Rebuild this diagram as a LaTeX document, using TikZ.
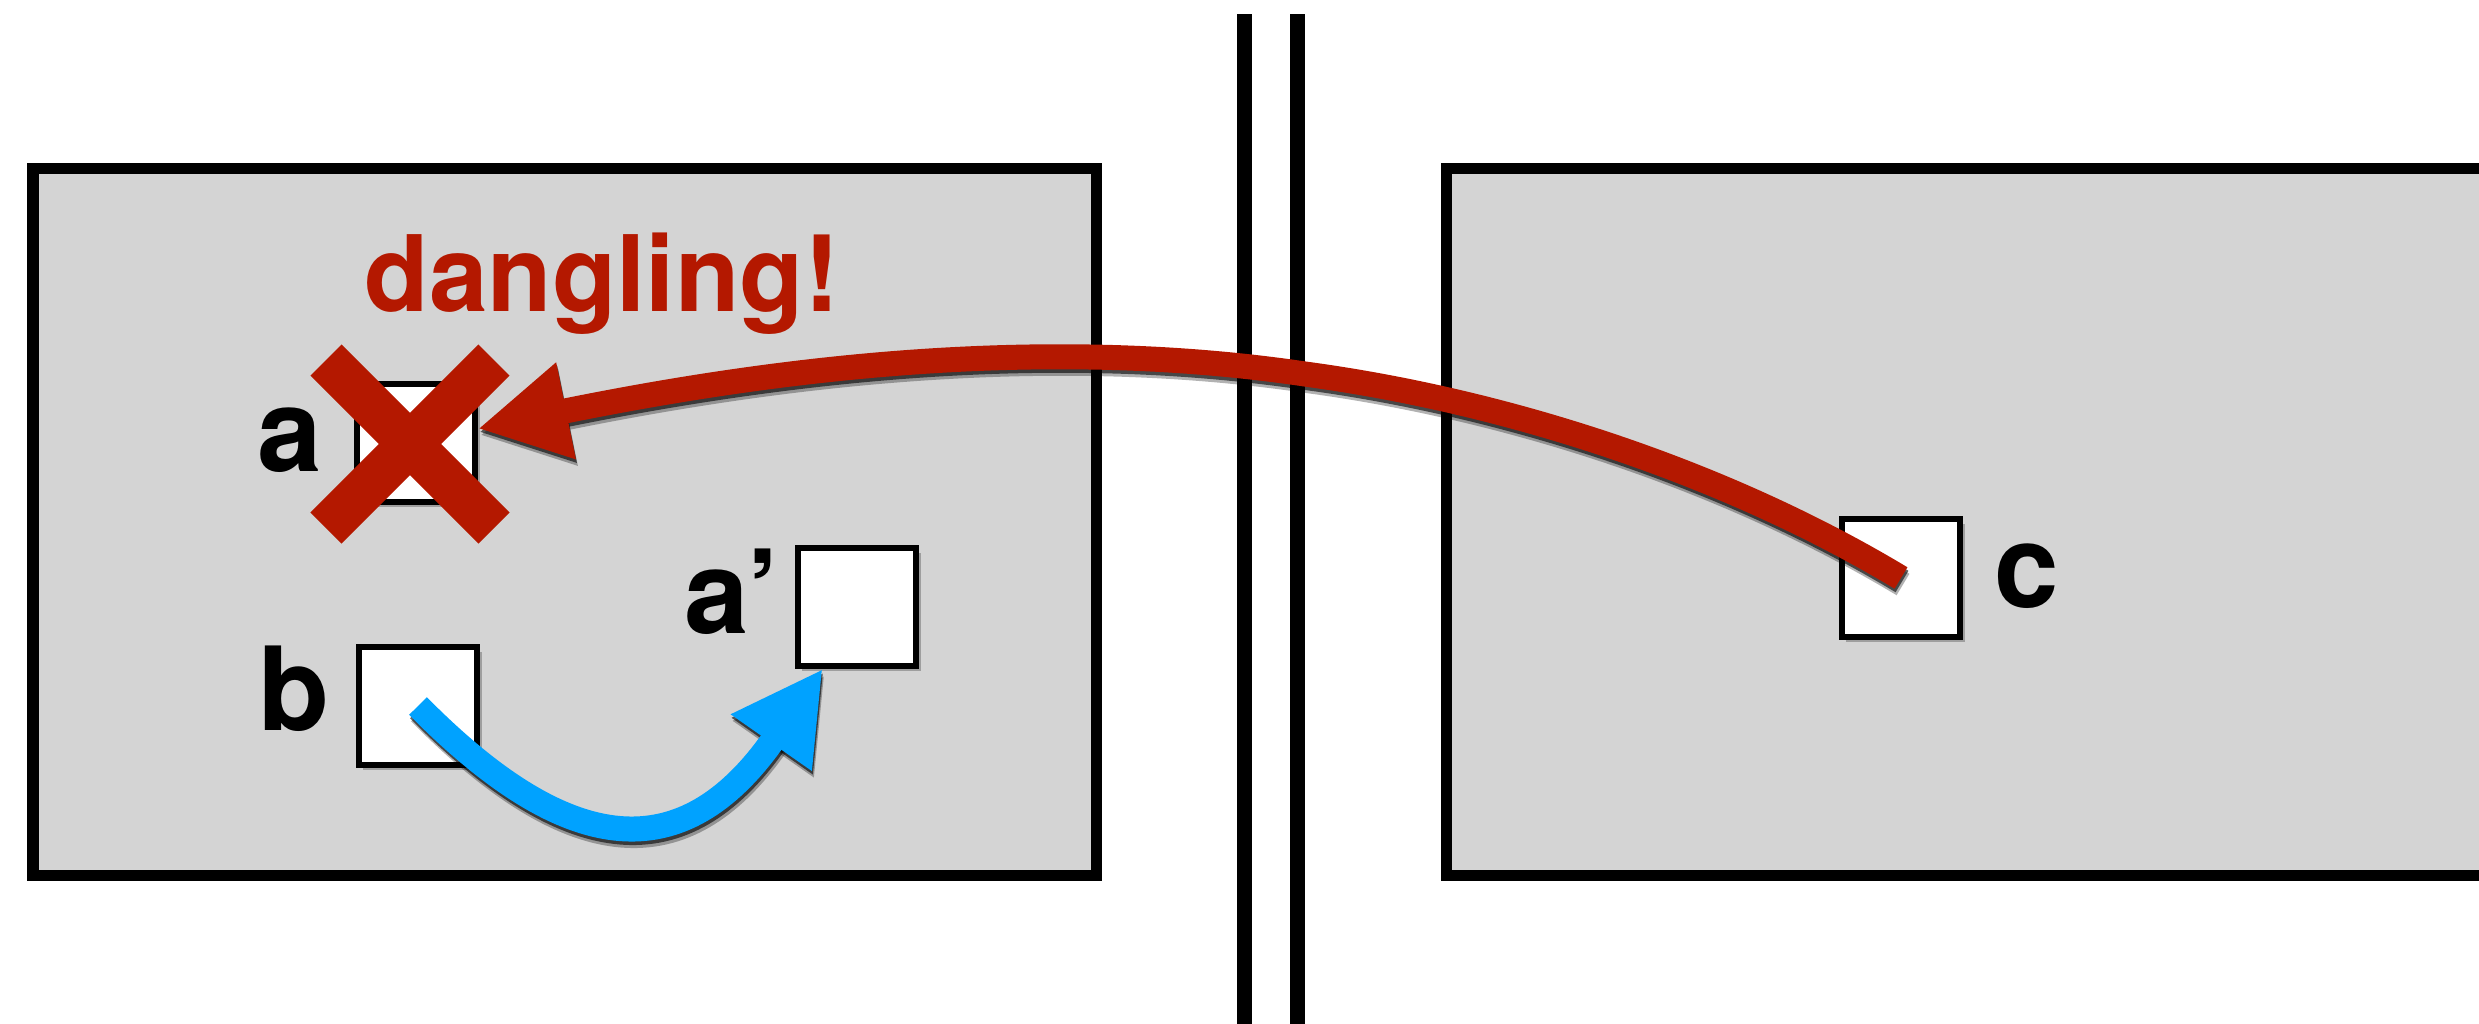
\documentclass[tikz,border=0pt]{standalone}
\usepackage{fontspec}
\setmainfont{TeX Gyre Heros}
\usetikzlibrary{arrows.meta,shadows}
\definecolor{panelgray}{RGB}{212,212,212}
\definecolor{errred}{RGB}{180,24,0}
\definecolor{okblue}{RGB}{0,162,255}
\tikzset{
 panel/.style={fill=panelgray, draw=black, line width=0.11cm},
 wall/.style={draw=black, line width=0.15cm},
 cell/.style={draw=black, fill=white, line width=0.055cm, minimum width=1.18cm, minimum height=1.18cm, inner sep=0pt,
   general shadow={shadow xshift=0.045cm, shadow yshift=-0.05cm, opacity=0.25, fill=black},
   general shadow={shadow xshift=0.025cm, shadow yshift=-0.03cm, opacity=0.5, fill=black}},
 lbl/.style={font=\fontsize{33pt}{40pt}\selectfont\bfseries, inner sep=0pt, anchor=base},
 ptr/.style={line width=0.25cm, -{Triangle[length=0.9cm,width=0.92cm]}},
 ptrshadow/.style={ptr, draw=black, opacity=#1},
 cross/.style={draw=errred, line width=0.44cm}
}
\begin{document}
\begin{tikzpicture}[x=0.01cm, y=-0.01cm]
\useasboundingbox (0,0) rectangle (2479,1023);
\clip (0,0) rectangle (2479,1023);
% panels
\draw[panel] (33,168) rectangle (1096,875);
\draw[panel] (1446,168) rectangle (2600,875);
% wall
\coordinate (w1t) at (1244.5,14);
\coordinate (w1b) at (1244.5,1040);
\coordinate (w2t) at (1297,14);
\coordinate (w2b) at (1297,1040);
\draw[wall] (w1t) -- (w1b);
\draw[wall] (w2t) -- (w2b);
% cells
\node[cell] (a) at (416,443) {};
\node[cell] (b) at (418,706) {};
\node[cell] (ap) at (857,607) {};
\node[cell] (c) at (1901,578) {};
% labels
\node[lbl] (la) at (290,471) {a};
\node[lbl] (lb) at (294,730) {b};
\node[lbl] (lap) at (732,633) {a’};
\node[lbl] (lc) at (2027,607) {c};
\node[lbl, text=errred, font=\fontsize{30pt}{36pt}\selectfont\bfseries] (dl) at (602,311) {dangling!};
% cross
\draw[cross] (326,360) -- (494,528);
\draw[cross] (494,360) -- (326,528);
% pointers: soft shadow layers, then the pointer itself
\begin{scope}[transform canvas={xshift=0.02cm,yshift=-0.065cm}]
\draw[ptrshadow=0.3] (c.center) .. controls (1730,475) and (1513,402) .. (1305,374) .. controls (1028,333) and (752,373) .. (a.13);
\draw[ptrshadow=0.3] (b.center) .. controls (580,870) and (690,859) .. (ap.241);
\end{scope}
\begin{scope}[transform canvas={xshift=0.01cm,yshift=-0.035cm}]
\draw[ptrshadow=0.6] (c.center) .. controls (1730,475) and (1513,402) .. (1305,374) .. controls (1028,333) and (752,373) .. (a.13);
\draw[ptrshadow=0.6] (b.center) .. controls (580,870) and (690,859) .. (ap.241);
\end{scope}
\draw[ptr, draw=errred] (c.center) .. controls (1730,475) and (1513,402) .. (1305,374) .. controls (1028,333) and (752,373) .. (a.13);
\draw[ptr, draw=okblue] (b.center) .. controls (580,870) and (690,859) .. (ap.241);
\end{tikzpicture}
\end{document}
